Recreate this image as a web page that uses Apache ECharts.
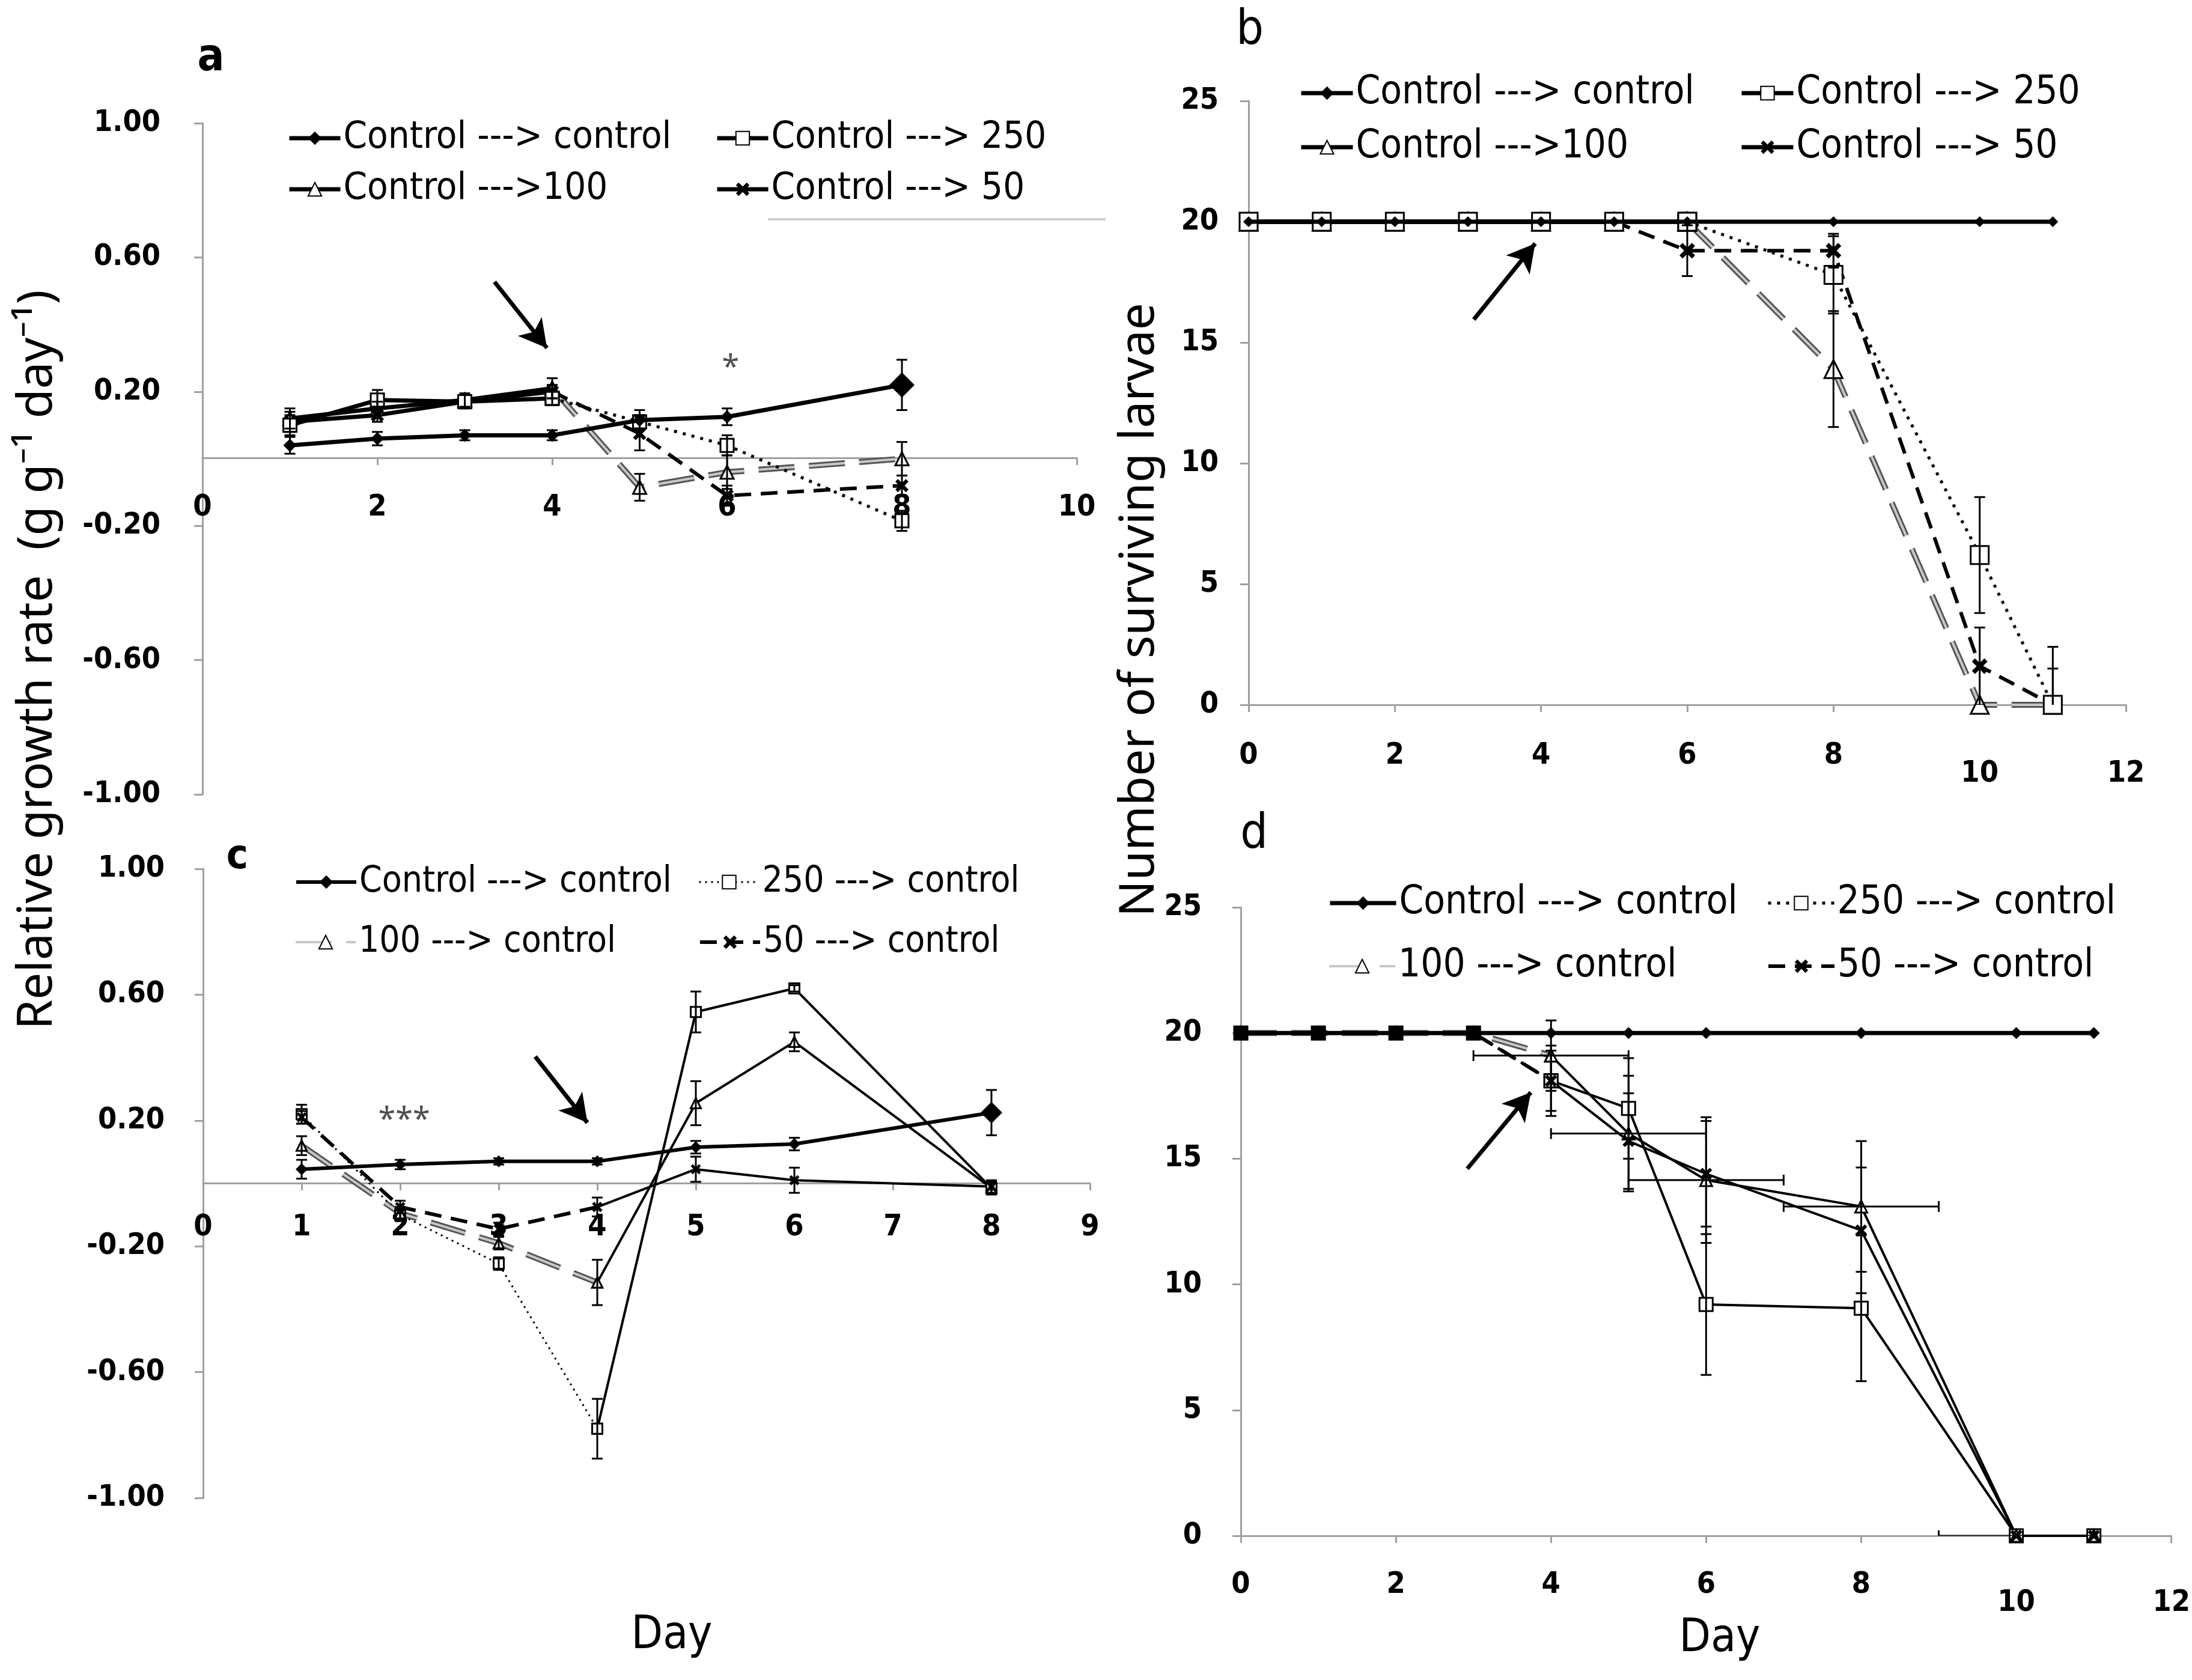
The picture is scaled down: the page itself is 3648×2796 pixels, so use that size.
<!DOCTYPE html>
<html lang="en">
<head>
<meta charset="utf-8">
<title>Growth rate and survival of larvae</title>
<style>
  html, body { margin: 0; background: #fff; }
  #chart { width: 3648px; height: 2796px; }
</style>
</head>
<body>
<div id="chart"></div>
<script src="https://cdn.jsdelivr.net/npm/echarts@6/dist/echarts.min.js"></script>
<script>
// ---------- values ----------
// a: relative growth rate, control larvae moved to treated food on day 4
const daysA = [1, 2, 3, 4, 5, 6, 8];
const aCtrl = [0.04, 0.06, 0.07, 0.07, 0.115, 0.125, 0.22];
const a250  = [0.10, 0.175, 0.17, 0.18, 0.11, 0.04, -0.185];
const a100  = [0.12, 0.15, 0.175, 0.21, -0.085, -0.04, 0.0];
const a50   = [0.11, 0.13, 0.17, 0.20, 0.075, -0.11, -0.08];
const aCtrlErr = [0.025, 0.02, 0.015, 0.015, 0.03, 0.025, 0.075];
const a250Err  = [0.03, 0.03, 0.02, 0.02, 0.02, 0.03, 0.03];
const a100Err  = [0.03, 0.02, 0.02, 0.03, 0.04, 0.05, 0.05];
const a50Err   = [0.03, 0.02, 0.02, 0.02, 0.05, 0.03, 0.03];

// b: number of surviving larvae
const daysB = [0, 1, 2, 3, 4, 5, 6, 8, 10, 11];
const bCtrl = [20, 20, 20, 20, 20, 20, 20, 20, 20, 20];
const b250  = [20, 20, 20, 20, 20, 20, 20, 17.8, 6.2, 0];
const b100  = [20, 20, 20, 20, 20, 20, 20, 13.9, 0, 0];
const b50   = [20, 20, 20, 20, 20, 20, 18.8, 18.8, 1.6, 0];
const b250Err = [0, 0, 0, 0, 0, 0, 0, 1.6, 2.4, 2.4];
const b100Err = [0, 0, 0, 0, 0, 0, 0, 2.4, 0, 0];
const b50Err  = [0, 0, 0, 0, 0, 0, 1.05, 0.7, 1.6, 1.5];

// c: relative growth rate, treated larvae moved back to control food on day 4
const daysC = [1, 2, 3, 4, 5, 6, 8];
const cCtrl = [0.045, 0.06, 0.07, 0.07, 0.115, 0.125, 0.225];
const c250  = [0.22, -0.10, -0.255, -0.78, 0.545, 0.62, -0.015];
const c100  = [0.12, -0.095, -0.19, -0.315, 0.255, 0.45, -0.015];
const c50   = [0.21, -0.075, -0.145, -0.075, 0.045, 0.01, -0.01];
const cCtrlErr = [0.03, 0.015, 0.01, 0.01, 0.02, 0.02, 0.072];
const c250Err  = [0.03, 0.02, 0.02, 0.095, 0.065, 0.01, 0.02];
const c100Err  = [0.03, 0.02, 0.02, 0.072, 0.07, 0.03, 0.02];
const c50Err   = [0.02, 0.02, 0.02, 0.03, 0.04, 0.04, 0.02];

// d: number of surviving larvae
const daysD = [0, 1, 2, 3, 4, 5, 6, 8, 10, 11];
const dCtrl = [20, 20, 20, 20, 20, 20, 20, 20, 20, 20];
const d250  = [20, 20, 20, 20, 18.1, 17.0, 9.2, 9.05, 0, 0];
const d100  = [20, 20, 20, 20, 19.1, 16.0, 14.15, 13.1, 0, 0];
const d50   = [20, 20, 20, 20, 18.1, 15.7, 14.4, 12.15, 0, 0];
const d250Err = [0, 0, 0, 0, 1.2, 2.0, 2.8, 2.9, 0, 0];
const d100Err = [0, 0, 0, 0, 1.4, 2.3, 2.5, 2.6, 0, 0];
const d50Err  = [0, 0, 0, 0, 1.4, 1.9, 2.1, 2.5, 0, 0];
const d100XErr = [0, 0, 0, 0, 1, 1, 1, 1, 1, 0];

// legend names
const namesAB = ['Control ---> control', 'Control ---> 250', 'Control --->100', 'Control ---> 50'];
const namesCD = ['Control ---> control', '250 ---> control', '100 ---> control', '50 ---> control'];

// annotations (arrows mark the day of transfer, stars the significance)
const aArrow = [[3.34, 0.527], [3.94, 0.33]];
const bArrow = [[3.08, 15.95], [3.92, 19.1]];
const cArrow = [[3.37, 0.403], [3.90, 0.193]];
const dArrow = [[2.92, 14.6], [3.74, 17.64]];
const aStars = [[6.04, 0.27]];
const cStars = [[2.04, 0.20]];

// ---------- styles ----------
const NARROW = "'Liberation Sans Narrow', 'Arial Narrow', 'DejaVu Sans Condensed', sans-serif";
const SANS = "'Noto Sans', 'Open Sans', 'DejaVu Sans', sans-serif";
const K = '#000';
const AXIS_GREY = '#a0a0a0';
const X_PATH = 'path://M0,2L2,0L5,3L8,0L10,2L7,5L10,8L8,10L5,7L2,10L0,8L3,5Z';

const LINE = {
  thick: { color: K, width: 7, type: 'solid' },
  mid: { color: K, width: 6, type: 'solid' },
  thin: { color: K, width: 4, type: 'solid' },
  dot: { color: K, width: 5, type: [5, 10] },
  fineDot: { color: K, width: 3, type: [3, 7] },
  dash: { color: K, width: 6, type: [28, 16] },
  gray: { color: '#c8c8c8', width: 4, type: [60, 24] },
  grayEdge: { color: '#555', width: 10, type: [60, 24] }
};

function symStyle(kind) {
  if (kind === 'rect') return { symbol: 'rect', itemStyle: { color: '#fff', borderColor: K, borderWidth: 3 } };
  if (kind === 'triangle') return { symbol: 'triangle', itemStyle: { color: '#fff', borderColor: K, borderWidth: 3 } };
  if (kind === 'x') return { symbol: X_PATH, itemStyle: { color: K } };
  return { symbol: 'diamond', itemStyle: { color: K } };
}

const series = [];

function addLine(gi, name, pts, line, sym, size) {
  const s = symStyle(sym);
  if (line === LINE.gray) {
    // grey double line: dark edge under a light core
    series.push({ type: 'line', xAxisIndex: gi, yAxisIndex: gi, data: pts, showSymbol: false,
      lineStyle: LINE.grayEdge, z: 2, silent: true });
  }
  series.push({ type: 'line', name: name, xAxisIndex: gi, yAxisIndex: gi, data: pts,
    symbol: s.symbol, symbolSize: size, showSymbol: true, itemStyle: s.itemStyle,
    lineStyle: line, z: 3, silent: true });
}

// one treatment = a segment before the transfer day and one after it
function addTreatment(gi, name, days, vals, split, preLine, postLine, sym, size) {
  const all = days.map((d, i) => [d, vals[i]]);
  addLine(gi, name, all.filter(p => p[0] <= split), preLine, sym, size);
  addLine(gi, undefined, all.filter(p => p[0] >= split), postLine, sym, size);
}

function addControl(gi, name, days, vals, line, size, bigLast, rectUpTo, arrow) {
  const data = days.map((d, i) => {
    const item = { value: [d, vals[i]] };
    if (bigLast && i === days.length - 1) item.symbolSize = bigLast;
    if (rectUpTo != null && d <= rectUpTo) { item.symbol = 'rect'; item.symbolSize = 24; }
    return item;
  });
  series.push({
    type: 'line', name: name, xAxisIndex: gi, yAxisIndex: gi, data: data,
    symbol: 'diamond', symbolSize: size, itemStyle: { color: K }, lineStyle: line, z: 4, silent: true,
    markLine: {
      silent: true, symbol: ['none', 'arrow'], symbolSize: [38, 46], label: { show: false },
      lineStyle: { color: K, width: 7, type: 'solid' },
      data: [[{ coord: arrow[0] }, { coord: arrow[1] }]]
    }
  });
}

function renderVErr(params, api) {
  const x = api.value(0);
  const top = api.coord([x, api.value(2)]);
  const bot = api.coord([x, api.value(1)]);
  const w = 9, st = { stroke: K, lineWidth: 3 };
  return { type: 'group', children: [
    { type: 'line', shape: { x1: top[0], y1: top[1], x2: bot[0], y2: bot[1] }, style: st },
    { type: 'line', shape: { x1: top[0] - w, y1: top[1], x2: top[0] + w, y2: top[1] }, style: st },
    { type: 'line', shape: { x1: bot[0] - w, y1: bot[1], x2: bot[0] + w, y2: bot[1] }, style: st }
  ] };
}

function renderHErr(params, api) {
  const y = api.value(0);
  const l = api.coord([api.value(1), y]);
  const r = api.coord([api.value(2), y]);
  const h = 9, st = { stroke: K, lineWidth: 3 };
  return { type: 'group', children: [
    { type: 'line', shape: { x1: l[0], y1: l[1], x2: r[0], y2: r[1] }, style: st },
    { type: 'line', shape: { x1: l[0], y1: l[1] - h, x2: l[0], y2: l[1] + h }, style: st },
    { type: 'line', shape: { x1: r[0], y1: r[1] - h, x2: r[0], y2: r[1] + h }, style: st }
  ] };
}

function addErrors(gi, days, list) {
  const data = [];
  list.forEach(([v, e]) => days.forEach((d, i) => {
    if (e[i] > 0) data.push([d, v[i] - e[i], v[i] + e[i]]);
  }));
  series.push({ type: 'custom', xAxisIndex: gi, yAxisIndex: gi, data: data, renderItem: renderVErr,
    encode: { x: 0, y: [1, 2] }, clip: true, z: 5, silent: true });
}

function addXErrors(gi, days, vals, errs) {
  const data = [];
  days.forEach((d, i) => { if (errs[i] > 0) data.push([vals[i], d - errs[i], d + errs[i]]); });
  series.push({ type: 'custom', xAxisIndex: gi, yAxisIndex: gi, data: data, renderItem: renderHErr,
    encode: { x: [1, 2], y: 0 }, clip: true, z: 5, silent: true });
}

function addStars(gi, pts, text) {
  series.push({ type: 'scatter', xAxisIndex: gi, yAxisIndex: gi, data: pts, symbolSize: 1,
    itemStyle: { color: 'rgba(0,0,0,0)' }, silent: true,
    label: { show: true, position: 'inside', formatter: text, fontSize: 52, fontFamily: SANS, color: '#222' } });
}

// ---------- panel a ----------
addTreatment(0, 'a:' + namesAB[2], daysA, a100, 4, LINE.thick, LINE.gray, 'triangle', 22);
addTreatment(0, 'a:' + namesAB[3], daysA, a50, 4, LINE.thick, LINE.dash, 'x', 22);
addTreatment(0, 'a:' + namesAB[1], daysA, a250, 4, LINE.thick, LINE.dot, 'rect', 22);
addControl(0, 'a:' + namesAB[0], daysA, aCtrl, LINE.thick, 22, 42, null, aArrow);
addErrors(0, daysA, [[aCtrl, aCtrlErr], [a250, a250Err], [a100, a100Err], [a50, a50Err]]);
addStars(0, aStars, '*');

// ---------- panel b ----------
addTreatment(1, 'b:' + namesAB[2], daysB, b100, 6, LINE.thick, LINE.gray, 'triangle', 30);
addTreatment(1, 'b:' + namesAB[3], daysB, b50, 5, LINE.thick, LINE.dash, 'x', 26);
addTreatment(1, 'b:' + namesAB[1], daysB, b250, 6, LINE.thick, LINE.dot, 'rect', 30);
addControl(1, 'b:' + namesAB[0], daysB, bCtrl, LINE.thick, 18, null, null, bArrow);
addErrors(1, daysB, [[b250, b250Err], [b100, b100Err], [b50, b50Err]]);

// ---------- panel c ----------
addTreatment(2, 'c:' + namesCD[1], daysC, c250, 4, LINE.fineDot, LINE.thin, 'rect', 17);
addTreatment(2, 'c:' + namesCD[2], daysC, c100, 4, LINE.gray, LINE.thin, 'triangle', 17);
addTreatment(2, 'c:' + namesCD[3], daysC, c50, 4, LINE.dash, LINE.thin, 'x', 17);
addControl(2, 'c:' + namesCD[0], daysC, cCtrl, LINE.mid, 20, 36, null, cArrow);
addErrors(2, daysC, [[cCtrl, cCtrlErr], [c250, c250Err], [c100, c100Err], [c50, c50Err]]);
addStars(2, cStars, '***');

// ---------- panel d ----------
addTreatment(3, 'd:' + namesCD[1], daysD, d250, 4, LINE.dot, LINE.thin, 'rect', 22);
addTreatment(3, 'd:' + namesCD[2], daysD, d100, 4, LINE.gray, LINE.thin, 'triangle', 20);
addTreatment(3, 'd:' + namesCD[3], daysD, d50, 4, LINE.dash, LINE.thin, 'x', 20);
addControl(3, 'd:' + namesCD[0], daysD, dCtrl, LINE.thick, 20, null, 3, dArrow);
addErrors(3, daysD, [[d250, d250Err], [d100, d100Err], [d50, d50Err]]);
addXErrors(3, daysD, d100, d100XErr);

// ---------- axes ----------
const grids = [
  { left: 337, top: 205, width: 1455, height: 1117 },
  { left: 2078, top: 168, width: 1460, height: 1005 },
  { left: 338, top: 1446, width: 1476, height: 1047 },
  { left: 2065, top: 1510, width: 1553, height: 1046 }
];

const tickFont = { fontSize: 50, fontWeight: 'bold', fontFamily: NARROW, color: K };

// lift: pixels from the grid bottom up to the y = 0 line (panels a and c)
function xAxisFor(gi, max, interval, margin, dropBig, lift) {
  const label = Object.assign({ margin: margin }, tickFont);
  if (dropBig) {
    label.formatter = v => (v >= 10 ? '{lo|' + v + '}' : String(v));
    label.rich = { lo: Object.assign({ padding: [30, 0, 0, 0] }, tickFont) };
  }
  return {
    type: 'value', gridIndex: gi, min: 0, max: max, interval: interval,
    offset: lift ? -lift : 0,
    axisLine: { onZero: false, lineStyle: { color: AXIS_GREY, width: 3 } },
    axisTick: { show: true, length: 12, lineStyle: { color: AXIS_GREY, width: 3 } },
    splitLine: { show: false },
    axisLabel: label
  };
}

function yAxisFor(gi, min, max, interval, margin, decimals) {
  return {
    type: 'value', gridIndex: gi, min: min, max: max, interval: interval,
    axisLine: { show: true, lineStyle: { color: AXIS_GREY, width: 3 } },
    axisTick: { show: true, length: 14, lineStyle: { color: AXIS_GREY, width: 3 } },
    splitLine: { show: false },
    axisLabel: Object.assign({ margin: margin, formatter: v => (decimals ? v.toFixed(2) : String(v)) }, tickFont)
  };
}

// ---------- legends: one per entry to keep the 2 x 2 layout ----------
const legendLayout = [
  { p: 'a:', names: namesAB, rows: [230, 315], cols: [478, 1190], w: 85, fs: 63 },
  { p: 'b:', names: namesAB, rows: [155, 245], cols: [2162, 2895], w: 86, fs: 65 },
  { p: 'c:', names: namesCD, rows: [1468, 1568], cols: [490, 1162], w: 100, fs: 60 },
  { p: 'd:', names: namesCD, rows: [1503, 1608], cols: [2210, 2940], w: 110, fs: 65 }
];
const legends = [];
legendLayout.forEach(L => {
  L.names.forEach((n, i) => {
    legends.push({
      data: [L.p + n], left: L.cols[i % 2], top: L.rows[Math.floor(i / 2)] - 40,
      orient: 'horizontal', padding: 0, itemWidth: L.w, itemHeight: 28, selectedMode: false,
      lineStyle: { width: 'inherit' },
      formatter: name => name.slice(2),
      textStyle: { fontSize: L.fs, fontFamily: NARROW, color: K, lineHeight: 80 }
    });
  });
});

// ---------- free text ----------
function txt(x, y, text, size, family, weight, rot) {
  return { type: 'text', x: x, y: y, rotation: rot || 0, silent: true,
    style: { text: text, fontSize: size, fontFamily: family, fontWeight: weight || 'normal', fill: K,
      textAlign: 'center', textVerticalAlign: 'middle', align: 'center', verticalAlign: 'middle' } };
}

const graphics = [
  txt(63, 1098, 'Relative growth rate  (g g\u207B\u00B9 day\u207B\u00B9)', 80, SANS, 'normal', Math.PI / 2),
  txt(1897, 1015, 'Number of surviving larvae', 80, SANS, 'normal', Math.PI / 2),
  txt(1118, 2723, 'Day', 76, NARROW),
  txt(2862, 2728, 'Day', 76, NARROW),
  txt(351, 98, 'a', 74, NARROW, 'bold'),
  txt(2080, 52, 'b', 80, NARROW),
  txt(395, 1427, 'c', 68, NARROW, 'bold'),
  txt(2087, 1390, 'd', 80, NARROW),
  { type: 'line', silent: true, shape: { x1: 1278, y1: 365, x2: 1840, y2: 365 },
    style: { stroke: '#d0d0d0', lineWidth: 4 } }
];

const chart = echarts.init(document.getElementById('chart'), null, { renderer: 'canvas', width: 3648, height: 2796 });
chart.setOption({
  animation: false,
  backgroundColor: '#fff',
  grid: grids,
  xAxis: [
    xAxisFor(0, 10, 2, 58, false, 560),
    xAxisFor(1, 12, 2, 60, true, 0),
    xAxisFor(2, 9, 1, 49, false, 524),
    xAxisFor(3, 12, 2, 57, true, 0)
  ],
  yAxis: [
    yAxisFor(0, -1, 1, 0.4, 70, true),
    yAxisFor(1, 0, 25, 5, 50, false),
    yAxisFor(2, -1, 1, 0.4, 64, true),
    yAxisFor(3, 0, 25, 5, 65, false)
  ],
  legend: legends,
  graphic: graphics,
  series: series
});
</script>
</body>
</html>
